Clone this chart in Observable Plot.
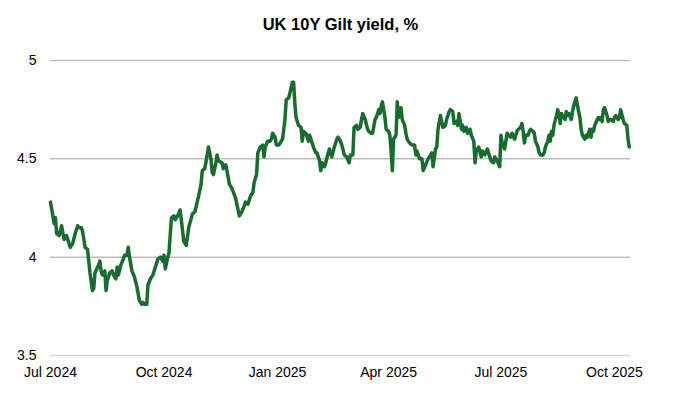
<!DOCTYPE html>
<html><head><meta charset="utf-8">
<script src="https://cdn.jsdelivr.net/npm/d3@7"></script>
<script src="https://cdn.jsdelivr.net/npm/@observablehq/plot@0.6"></script>
<style>
body{margin:0;background:#fff;font-family:"Liberation Sans",Arial,sans-serif}
#wrap{position:relative;width:681px;height:395px}
#title{position:absolute;top:15px;left:0;width:681px;text-align:center;font-weight:bold;font-size:16.5px;color:#000;font-family:"Liberation Sans",Arial,sans-serif}
</style></head><body>
<div id="wrap"></div>
<script>
const dates = [
"2024-07-01","2024-07-04","2024-07-05","2024-07-06","2024-07-08","2024-07-10","2024-07-12","2024-07-14","2024-07-16","2024-07-17",
"2024-07-19","2024-07-21","2024-07-23","2024-07-24","2024-07-26","2024-07-27","2024-07-29","2024-07-31","2024-08-02","2024-08-04",
"2024-08-05","2024-08-06","2024-08-09","2024-08-10","2024-08-11","2024-08-12","2024-08-14","2024-08-15","2024-08-16","2024-08-18",
"2024-08-20","2024-08-21","2024-08-23","2024-08-24","2024-08-25","2024-08-27","2024-08-29","2024-08-30","2024-09-01","2024-09-02",
"2024-09-03","2024-09-05","2024-09-07","2024-09-09","2024-09-11","2024-09-13","2024-09-14","2024-09-15","2024-09-17","2024-09-18",
"2024-09-20","2024-09-22","2024-09-24","2024-09-26","2024-09-28","2024-09-30","2024-10-01","2024-10-02","2024-10-04","2024-10-05",
"2024-10-07","2024-10-09","2024-10-10","2024-10-12","2024-10-14","2024-10-15","2024-10-17","2024-10-19","2024-10-21","2024-10-24",
"2024-10-26","2024-10-29","2024-10-31","2024-11-01","2024-11-03","2024-11-05","2024-11-06","2024-11-08","2024-11-09","2024-11-10",
"2024-11-12","2024-11-13","2024-11-14","2024-11-17","2024-11-18","2024-11-20","2024-11-21","2024-11-23","2024-11-25","2024-11-28",
"2024-11-29","2024-12-01","2024-12-03","2024-12-05","2024-12-06","2024-12-08","2024-12-10","2024-12-12","2024-12-13","2024-12-15",
"2024-12-16","2024-12-18","2024-12-20","2024-12-21","2024-12-22","2024-12-24","2024-12-26","2024-12-27","2024-12-28","2024-12-30",
"2024-12-31","2025-01-02","2025-01-04","2025-01-05","2025-01-07","2025-01-08","2025-01-10","2025-01-12","2025-01-13","2025-01-14",
"2025-01-15","2025-01-16","2025-01-18","2025-01-20","2025-01-21","2025-01-22","2025-01-24","2025-01-26","2025-01-27","2025-01-29",
"2025-01-30","2025-02-01","2025-02-02","2025-02-04","2025-02-05","2025-02-06","2025-02-08","2025-02-09","2025-02-11","2025-02-12",
"2025-02-14","2025-02-16","2025-02-18","2025-02-19","2025-02-21","2025-02-23","2025-02-24","2025-02-26","2025-02-28","2025-03-01",
"2025-03-03","2025-03-04","2025-03-06","2025-03-07","2025-03-09","2025-03-10","2025-03-11","2025-03-13","2025-03-15","2025-03-16",
"2025-03-18","2025-03-19","2025-03-21","2025-03-22","2025-03-24","2025-03-25","2025-03-26","2025-03-27","2025-03-29","2025-03-30",
"2025-04-01","2025-04-02","2025-04-03","2025-04-04","2025-04-05","2025-04-07","2025-04-08","2025-04-09","2025-04-11","2025-04-12",
"2025-04-14","2025-04-15","2025-04-16","2025-04-18","2025-04-20","2025-04-22","2025-04-23","2025-04-24","2025-04-26","2025-04-28",
"2025-04-29","2025-05-01","2025-05-03","2025-05-04","2025-05-06","2025-05-07","2025-05-09","2025-05-10","2025-05-11","2025-05-13",
"2025-05-14","2025-05-15","2025-05-17","2025-05-18","2025-05-20","2025-05-21","2025-05-23","2025-05-24","2025-05-26","2025-05-27",
"2025-05-28","2025-05-30","2025-05-31","2025-06-01","2025-06-03","2025-06-04","2025-06-06","2025-06-07","2025-06-09","2025-06-10",
"2025-06-11","2025-06-13","2025-06-15","2025-06-16","2025-06-18","2025-06-20","2025-06-22","2025-06-23","2025-06-25","2025-06-26",
"2025-06-28","2025-06-30","2025-07-01","2025-07-02","2025-07-04","2025-07-06","2025-07-07","2025-07-09","2025-07-10","2025-07-12",
"2025-07-14","2025-07-15","2025-07-17","2025-07-18","2025-07-19","2025-07-20","2025-07-21","2025-07-23","2025-07-24","2025-07-25",
"2025-07-27","2025-07-28","2025-07-29","2025-07-31","2025-08-01","2025-08-02","2025-08-04","2025-08-05","2025-08-06","2025-08-08",
"2025-08-09","2025-08-10","2025-08-11","2025-08-12","2025-08-13","2025-08-15","2025-08-16","2025-08-17","2025-08-18","2025-08-19",
"2025-08-20","2025-08-22","2025-08-23","2025-08-24","2025-08-25","2025-08-27","2025-08-28","2025-08-29","2025-08-31","2025-09-01",
"2025-09-03","2025-09-04","2025-09-05","2025-09-07","2025-09-08","2025-09-09","2025-09-11","2025-09-12","2025-09-13","2025-09-14",
"2025-09-15","2025-09-17","2025-09-18","2025-09-19","2025-09-20","2025-09-21","2025-09-22","2025-09-23","2025-09-25","2025-09-26",
"2025-09-27","2025-09-28","2025-09-30","2025-10-01","2025-10-02","2025-10-04","2025-10-05","2025-10-06","2025-10-08","2025-10-09",
"2025-10-11","2025-10-12","2025-10-13"
];
const yields = [
4.28,4.17,4.20,4.12,4.11,4.16,4.09,4.11,4.07,4.05,
4.07,4.12,4.16,4.15,4.15,4.13,4.05,4.04,3.92,3.83,
3.84,3.92,3.96,3.98,3.93,3.91,3.93,3.83,3.88,3.92,
3.93,3.91,3.89,3.95,3.91,3.96,3.99,4.01,4.01,4.05,
4.00,3.93,3.90,3.85,3.78,3.76,3.77,3.76,3.76,3.86,
3.89,3.91,3.95,3.99,4.00,3.98,4.01,3.94,4.00,4.02,
4.20,4.21,4.19,4.21,4.24,4.19,4.08,4.06,4.15,4.22,
4.23,4.31,4.37,4.44,4.45,4.52,4.56,4.50,4.43,4.42,
4.48,4.52,4.49,4.48,4.45,4.47,4.44,4.37,4.35,4.30,
4.27,4.21,4.23,4.26,4.28,4.27,4.31,4.33,4.38,4.42,
4.53,4.56,4.57,4.51,4.56,4.59,4.59,4.60,4.63,4.61,
4.57,4.57,4.59,4.60,4.70,4.80,4.81,4.86,4.89,4.89,
4.78,4.71,4.67,4.66,4.59,4.64,4.63,4.59,4.62,4.58,
4.56,4.53,4.53,4.49,4.44,4.48,4.46,4.48,4.53,4.55,
4.51,4.56,4.60,4.61,4.59,4.55,4.52,4.51,4.48,4.52,
4.52,4.66,4.67,4.65,4.66,4.70,4.73,4.70,4.65,4.64,
4.63,4.63,4.70,4.71,4.75,4.73,4.77,4.79,4.71,4.65,
4.64,4.62,4.54,4.44,4.60,4.62,4.79,4.71,4.76,4.70,
4.67,4.63,4.60,4.58,4.57,4.57,4.52,4.54,4.50,4.50,
4.44,4.47,4.50,4.51,4.53,4.46,4.55,4.56,4.65,4.72,
4.69,4.66,4.67,4.70,4.74,4.75,4.74,4.68,4.69,4.67,
4.73,4.65,4.67,4.64,4.66,4.63,4.65,4.62,4.59,4.48,
4.54,4.56,4.51,4.54,4.52,4.55,4.51,4.49,4.48,4.51,
4.49,4.46,4.62,4.58,4.55,4.63,4.62,4.61,4.63,4.60,
4.64,4.65,4.66,4.68,4.64,4.58,4.62,4.62,4.64,4.65,
4.64,4.63,4.59,4.56,4.53,4.52,4.52,4.53,4.56,4.59,
4.62,4.59,4.64,4.62,4.67,4.72,4.75,4.73,4.68,4.73,
4.72,4.70,4.74,4.72,4.73,4.70,4.74,4.77,4.81,4.77,
4.71,4.65,4.62,4.60,4.62,4.61,4.65,4.61,4.65,4.64,
4.67,4.70,4.71,4.70,4.71,4.69,4.75,4.76,4.72,4.69,
4.70,4.70,4.69,4.71,4.72,4.70,4.71,4.75,4.70,4.68,
4.67,4.60,4.56
];
const xTickDates = ["2024-07-01","2024-10-01","2025-01-01","2025-04-01","2025-07-01","2025-10-01"];
const xTickLabels = ["Jul 2024","Oct 2024","Jan 2025","Apr 2025","Jul 2025","Oct 2025"];
const yTicks = [3.5, 4, 4.5, 5];
const yTickLabels = ["3.5", "4", "4.5", "5"];
const gridLines = [4, 4.5, 5];
const xDomain = ["2024-07-01", "2025-10-14"];

const data = dates.map((d, i) => ({date: new Date(d), value: yields[i]}));
const xTicks = xTickDates.map(d => new Date(d));
const xLabelOf = new Map(xTicks.map((d, i) => [+d, xTickLabels[i]]));
const yLabelOf = new Map(yTicks.map((v, i) => [v, yTickLabels[i]]));

const chart = Plot.plot({
  width: 681,
  height: 395,
  marginTop: 60,
  marginBottom: 40,
  marginLeft: 50,
  marginRight: 51,
  style: {fontFamily: "'Liberation Sans', Arial, sans-serif", fontSize: "14px", color: "#000", background: "#fff"},
  x: {type: "utc", domain: xDomain.map(d => new Date(d)), label: null},
  y: {domain: [3.5, 5], label: null},
  marks: [
    Plot.ruleY([3.5], {stroke: "#d9d9d9", strokeWidth: 1.5}),
    Plot.ruleY(gridLines, {stroke: "#bfbfbf", strokeWidth: 1.5}),
    Plot.axisY({ticks: yTicks, tickFormat: v => yLabelOf.get(v), tickSize: 0, tickPadding: 14, fontSize: 14, fill: "#000", label: null}),
    Plot.axisX({ticks: xTicks, tickFormat: d => xLabelOf.get(+d), tickSize: 0, tickPadding: 12, fontSize: 14, fill: "#000", label: null}),
    Plot.line(data, {x: "date", y: "value", stroke: "#186c2e", strokeWidth: 3.5, strokeLinejoin: "round", strokeLinecap: "round"})
  ]
});
const wrap = document.getElementById("wrap");
wrap.appendChild(chart);
const t = document.createElement("div");
t.id = "title";
t.textContent = "UK 10Y Gilt yield, %";
wrap.appendChild(t);
</script>
</body></html>
